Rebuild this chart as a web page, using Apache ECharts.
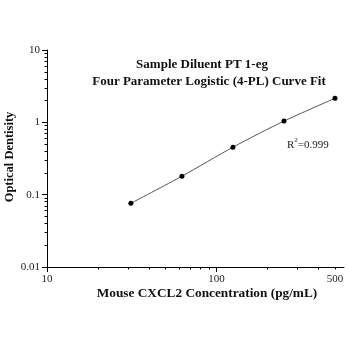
<!DOCTYPE html>
<html>
<head>
<meta charset="utf-8">
<script src="https://cdn.jsdelivr.net/npm/echarts@6/dist/echarts.min.js"></script>
<style>html,body{margin:0;padding:0;background:#fff}#c{width:348px;height:348px}</style>
</head>
<body>
<div id="c"></div>
<script>
// Data
var concentrations = [31.25, 62.5, 125, 250, 500];
var opticalDensity = [0.076, 0.180, 0.454, 1.04, 2.15];
var xMajorTicks = [10, 100];
var xMinorTicks = [20, 30, 40, 50, 60, 70, 80, 90, 200, 300, 400, 500];
var xTickLabels = [10, 100, 500];
var yMajorTicks = [0.01, 0.1, 1, 10];
var yMinorTicks = [0.02,0.03,0.04,0.05,0.06,0.07,0.08,0.09,0.2,0.3,0.4,0.5,0.6,0.7,0.8,0.9,2,3,4,5,6,7,8,9];
var yTickLabels = ['0.01', '0.1', '1', '10'];
var titleLines = ['Sample Diluent PT 1-eg', 'Four Parameter Logistic (4-PL) Curve Fit'];
var xName = 'Mouse CXCL2 Concentration (pg/mL)';
var yName = 'Optical Dentisity';
var r2Text = '0.999';

var serif = '"Liberation Serif", "Times New Roman", serif';
var chart = echarts.init(document.getElementById('c'));
var xMin = 10, xMax = 565, yMin = 0.01, yMax = 10;
var labelStyle = {color: '#222', fontFamily: serif, fontSize: 11};
var lg = function (arr) { return arr.map(function (v) { return Math.log10(v); }); };

// tick-only axes in log10 space, placed on top of the log axes
function tickAxis(pos, lo, hi, ticks, len) {
  return {
    type: 'value', min: Math.log10(lo), max: Math.log10(hi), position: pos, offset: 0,
    axisLine: {show: false, onZero: false},
    axisTick: {show: true, length: len, lineStyle: {color: '#000', width: 1}, customValues: lg(ticks)},
    axisLabel: {show: false},
    splitLine: {show: false}
  };
}

chart.setOption({
  animation: false,
  backgroundColor: '#fff',
  grid: {left: 47, right: 4, top: 50, bottom: 81, containLabel: false},
  xAxis: [{
    type: 'log', logBase: 10, min: xMin, max: xMax, position: 'bottom',
    axisLine: {show: true, onZero: false, lineStyle: {color: '#000', width: 1}},
    axisTick: {show: false},
    axisLabel: Object.assign({margin: 7, customValues: xTickLabels, formatter: function (v) { return String(Math.round(v)); }}, labelStyle),
    splitLine: {show: false}
  },
    tickAxis('bottom', xMin, xMax, xMajorTicks, 5),
    tickAxis('bottom', xMin, xMax, xMinorTicks, 2.5)
  ],
  yAxis: [{
    type: 'log', logBase: 10, min: yMin, max: yMax, position: 'left',
    axisLine: {show: true, onZero: false, lineStyle: {color: '#000', width: 1}},
    axisTick: {show: false},
    axisLabel: Object.assign({margin: 7, customValues: yMajorTicks, formatter: function (v) {
      for (var i = 0; i < yMajorTicks.length; i++) { if (Math.abs(yMajorTicks[i] - v) / yMajorTicks[i] < 1e-6) return yTickLabels[i]; }
      return String(v);
    }}, labelStyle),
    splitLine: {show: false}
  },
    tickAxis('left', yMin, yMax, yMajorTicks, 5),
    tickAxis('left', yMin, yMax, yMinorTicks, 2.5)
  ],
  series: [{
    type: 'line',
    xAxisIndex: 0, yAxisIndex: 0,
    data: concentrations.map(function (c, i) { return [c, opticalDensity[i]]; }),
    smooth: 0.25,
    symbol: 'circle', symbolSize: 5,
    itemStyle: {color: '#000'},
    lineStyle: {color: '#555', width: 1}
  }],
  graphic: [
    {type: 'text', x: 202, y: 65, style: {text: titleLines[0], fill: '#111', font: 'bold 13px ' + serif, align: 'center', verticalAlign: 'middle'}},
    {type: 'text', x: 209, y: 82, style: {text: titleLines[1], fill: '#111', font: 'bold 13px ' + serif, align: 'center', verticalAlign: 'middle'}},
    {type: 'text', x: 207, y: 294, style: {text: xName, fill: '#111', font: 'bold 13.3px ' + serif, align: 'center', verticalAlign: 'middle'}},
    {type: 'text', x: 10, y: 157, rotation: Math.PI / 2, style: {text: yName, fill: '#111', font: 'bold 12.5px ' + serif, align: 'center', verticalAlign: 'middle'}},
    {type: 'text', x: 287, y: 144, style: {
      text: '{a|R}{s|2}{a|=' + r2Text + '}',
      align: 'left', verticalAlign: 'middle',
      rich: {
        a: {fontFamily: serif, fontSize: 11, fill: '#222', verticalAlign: 'bottom', lineHeight: 14},
        s: {fontFamily: serif, fontSize: 7, fill: '#222', verticalAlign: 'top', lineHeight: 14}
      }
    }}
  ]
});
</script>
</body>
</html>
